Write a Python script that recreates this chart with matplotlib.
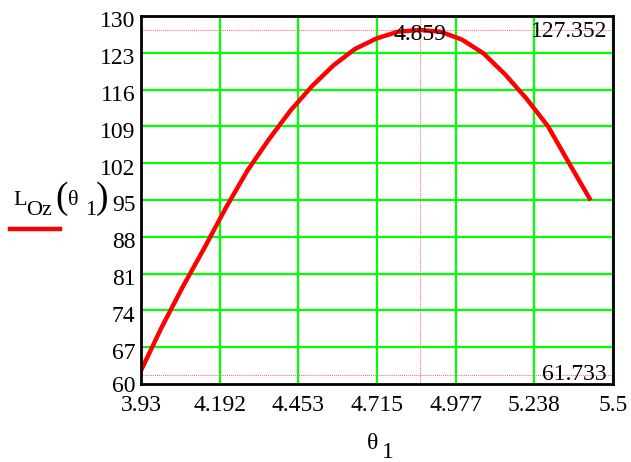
import matplotlib
matplotlib.use("Agg")
import matplotlib.pyplot as plt
from matplotlib.transforms import ScaledTranslation

plt.rcParams['font.family'] = ['Liberation Serif', 'DejaVu Serif']

# Sampled curve L_Oz(theta_1)
theta1 = [3.927, 3.998, 4.070, 4.141, 4.213, 4.284, 4.355, 4.427, 4.498, 4.570, 4.641,
          4.712, 4.784, 4.855, 4.927, 4.998, 5.069, 5.141, 5.212, 5.284, 5.355, 5.426]
L_oz = [62.2, 70.7, 78.6, 85.9, 93.6, 100.6, 106.5, 112.0, 116.6, 120.6, 123.7,
        125.7, 127.0, 127.35, 127.0, 125.5, 122.9, 118.9, 114.3, 109.0, 101.9, 94.9]

x_ticks = [3.93, 4.192, 4.453, 4.715, 4.977, 5.238, 5.5]
x_tick_labels = ["3.93", "4.192", "4.453", "4.715", "4.977", "5.238", "5.5"]
y_ticks = [60, 67, 74, 81, 88, 95, 102, 109, 116, 123, 130]
y_tick_labels = ["60", "67", "74", "81", "88", "95", "102", "109", "116", "123", "130"]

# Trace markers
marker_x = 4.859
marker_y_hi = 127.352
marker_y_lo = 61.733

W, H = 631, 462
fig = plt.figure(figsize=(W / 100, H / 100), dpi=100)
ax = fig.add_axes([141 / W, 1 - 384 / H, (613 - 141) / W, (384 - 16) / H])

ax.set_xlim(x_ticks[0], x_ticks[-1])
ax.set_ylim(y_ticks[0], y_ticks[-1])

green = '#00ff00'
for xv in x_ticks[1:]:
    ax.axvline(xv, color=green, lw=1.6, zorder=1)
for yv in y_ticks[1:-1]:
    ax.axhline(yv, color=green, lw=1.6, zorder=1)

# dotted trace lines
ax.axvline(marker_x, color='#ff6060', lw=0.7, ls=(0, (1, 1)), zorder=2)
ax.axhline(marker_y_hi, color='#ff6060', lw=0.7, ls=(0, (1, 1)), zorder=2)
ax.axhline(marker_y_lo, color='#ff6060', lw=0.7, ls=(0, (1, 1)), zorder=2)

ax.plot(theta1, L_oz, color='#ff0000', lw=3.2, zorder=3, solid_capstyle='butt')

fs = 17
down = lambda pts: ScaledTranslation(0, -pts / 72, fig.dpi_scale_trans)
ax.text(marker_x, marker_y_hi, f"{marker_x:.3f}", ha='center', va='center',
        fontsize=fs, zorder=4, transform=ax.transData + down(3))
ax.text(x_ticks[-1] - 0.02, marker_y_hi, f"{marker_y_hi:.3f}", ha='right', va='center',
        fontsize=fs, zorder=4, transform=ax.transData + down(1))
ax.text(x_ticks[-1] - 0.02, marker_y_lo, f"{marker_y_lo:.3f}", ha='right', va='center',
        fontsize=fs, zorder=4)

ax.set_xticks(x_ticks)
ax.set_xticklabels(x_tick_labels)
ax.set_yticks(y_ticks)
ax.set_yticklabels(y_tick_labels)
ax.tick_params(axis='both', length=0, labelsize=fs)
ax.tick_params(axis='x', pad=8)
ax.tick_params(axis='y', pad=4)
for lab in ax.get_yticklabels()[1:]:
    lab.set_transform(lab.get_transform() + down(2.5))

for s in ax.spines.values():
    s.set_color('black')
    s.set_linewidth(2.0)
    s.set_zorder(5)


def fpos(px, py):
    return px / W, 1 - py / H


# y-axis label: L_Oz(theta_1) with legend line beneath
fs_lab = 16
fig.text(*fpos(13, 205), "L", fontsize=fs_lab, va='baseline', ha='left')
fig.text(*fpos(26, 215), "Oz", fontsize=fs_lab, va='baseline', ha='left')
fig.text(*fpos(55, 208), "(", fontsize=27, va='baseline', ha='left')
fig.text(*fpos(68, 205), "θ", fontsize=fs_lab, va='baseline', ha='left')
fig.text(*fpos(85, 215), "1", fontsize=fs_lab, va='baseline', ha='left')
fig.text(*fpos(96, 208), ")", fontsize=27, va='baseline', ha='left')
fig.add_artist(plt.Line2D([10 / W, 60 / W], [1 - 228.5 / H, 1 - 228.5 / H],
                          color='#ff0000', lw=3.2, transform=fig.transFigure))

# x-axis label
fig.text(*fpos(367, 449), "θ", fontsize=fs, va='baseline', ha='left')
fig.text(*fpos(382, 458), "1", fontsize=fs, va='baseline', ha='left')

fig.savefig("out.png", dpi=100)
